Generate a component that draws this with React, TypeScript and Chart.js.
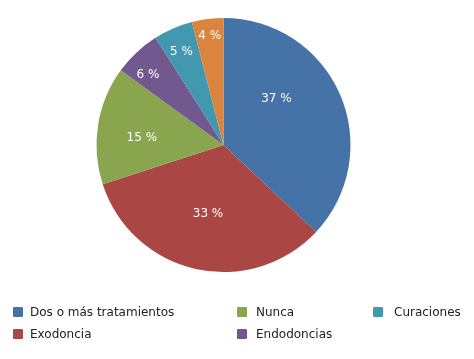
import React, { useEffect, useRef } from "react";
import { Chart, registerables } from "chart.js";

Chart.register(...registerables);

const categories = [
  "Dos o más tratamientos",
  "Exodoncia",
  "Nunca",
  "Endodoncias",
  "Curaciones",
  "Otros",
];
const values = [37, 33, 15, 6, 5, 4];
const colors = ["#4572A7", "#AA4643", "#89A54E", "#71588F", "#4198AF", "#DB843D"];
const legendItems = [0, 1, 2, 3, 4];

// label placement (distance from center in px, angular shift in degrees)
const labelDist = [70, 71, 82, 103, 102, 110];
const labelShift = [-17.5, 0, -4, -4, -1, 0];

const FONT = "'DejaVu Sans', Verdana, sans-serif";

const labelPlugin = {
  id: "pieLabels",
  afterDatasetsDraw(chart: any) {
    const ctx = chart.ctx;
    const meta = chart.getDatasetMeta(0);
    ctx.save();
    ctx.fillStyle = "#ffffff";
    ctx.font = `12px ${FONT}`;
    ctx.textAlign = "center";
    ctx.textBaseline = "middle";
    meta.data.forEach((arc: any, i: number) => {
      const { x, y, startAngle, endAngle } = arc.getProps(
        ["x", "y", "startAngle", "endAngle"],
        true
      );
      const mid = (startAngle + endAngle) / 2 + (labelShift[i] * Math.PI) / 180;
      const d = labelDist[i];
      ctx.fillText(`${values[i]} %`, x + Math.cos(mid) * d, y + Math.sin(mid) * d);
    });
    ctx.restore();
  },
};

const legendCols = [
  { sq: 13, tx: 30 },
  { sq: 237, tx: 256 },
  { sq: 373, tx: 394 },
];
const legendRows = [312, 334];

export default function App() {
  const ref = useRef<HTMLCanvasElement | null>(null);
  useEffect(() => {
    if (!ref.current) return;
    const chart = new Chart(ref.current, {
      type: "pie",
      data: {
        labels: categories,
        datasets: [
          {
            data: values,
            backgroundColor: colors,
            borderWidth: 0,
          },
        ],
      },
      options: {
        animation: false,
        responsive: false,
        maintainAspectRatio: false,
        layout: { padding: { left: 96.5, right: 123.5, top: 18, bottom: 87 } },
        plugins: {
          legend: { display: false },
          tooltip: { enabled: false },
        },
      },
      plugins: [labelPlugin],
    });
    return () => chart.destroy();
  }, []);

  return (
    <div
      style={{
        position: "fixed",
        left: 0,
        top: 0,
        width: 474,
        height: 359,
        background: "#ffffff",
        fontFamily: FONT,
      }}
    >
      <canvas ref={ref} width={474} height={359} style={{ position: "absolute", left: 0, top: 0 }} />
      {legendItems.map((idx, k) => {
        const col = legendCols[Math.floor(k / 2)];
        const rowY = legendRows[k % 2];
        return (
          <React.Fragment key={idx}>
            <div
              style={{
                position: "absolute",
                left: col.sq,
                top: rowY - 5,
                width: 10,
                height: 10,
                background: colors[idx],
                borderRadius: 1,
              }}
            />
            <div
              style={{
                position: "absolute",
                left: col.tx,
                top: rowY - 8,
                height: 16,
                lineHeight: "16px",
                fontSize: 12,
                color: "#222222",
                whiteSpace: "nowrap",
              }}
            >
              {categories[idx]}
            </div>
          </React.Fragment>
        );
      })}
    </div>
  );
}
